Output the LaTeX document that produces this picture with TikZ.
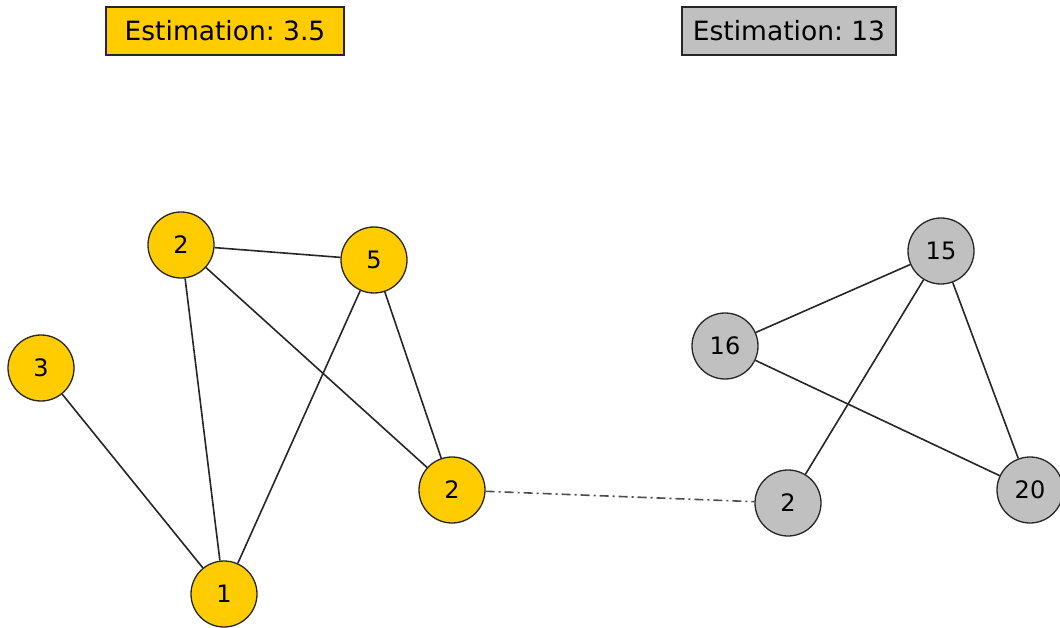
\documentclass[tikz,border=0pt]{standalone}
\usepackage{fontspec}
\setmainfont{DejaVu Sans}
\frenchspacing
\definecolor{gold}{HTML}{FFCC00}
\definecolor{silver}{HTML}{C0C0C0}
\begin{document}
\begin{tikzpicture}[x=1pt,y=-1pt,
  vert/.style={circle,draw=black!85,line width=1.3pt,minimum size=66pt,inner sep=0pt,font=\fontsize{24}{28}\selectfont},
  gvert/.style={vert,fill=gold},
  svert/.style={vert,fill=silver},
  edge/.style={draw=black!85,line width=1.6pt},
  tag/.style={draw=black!85,line width=1.5pt,minimum height=48pt,inner sep=0pt,font=\fontsize{26.5}{30}\selectfont},
  link/.style={draw=black!70,line width=1.6pt,dash pattern=on 9pt off 4pt on 2pt off 4pt}]
\useasboundingbox (0,0) rectangle (1060,628);
% estimation labels
\node[tag,fill=gold,minimum width=238pt] (estA) at (225,31) {Estimation: 3.5};
\node[tag,fill=silver,minimum width=214pt] (estB) at (789,31) {Estimation: 13};
% first component
\node[gvert] (a3) at (41,368) {3};
\node[gvert] (a2) at (181,245) {2};
\node[gvert] (a5) at (374,260) {5};
\node[gvert] (b2) at (452,490) {2};
\node[gvert] (a1) at (224,594) {1};
% second component
\node[svert] (s15) at (941,251) {15};
\node[svert] (s16) at (725,346) {16};
\node[svert] (s2) at (788,503) {2};
\node[svert] (s20) at (1030,490) {20};
% edges
\path[edge] (a2) -- (a5);
\path[edge] (a2) -- (a1);
\path[edge] (a2) -- (b2);
\path[edge] (a5) -- (a1);
\path[edge] (a5) -- (b2);
\path[edge] (a3) -- (a1);
\path[edge] (s15) -- (s16);
\path[edge] (s15) -- (s2);
\path[edge] (s15) -- (s20);
\path[edge] (s16) -- (s20);
\path[link] (b2) -- (s2);
\end{tikzpicture}
\end{document}
